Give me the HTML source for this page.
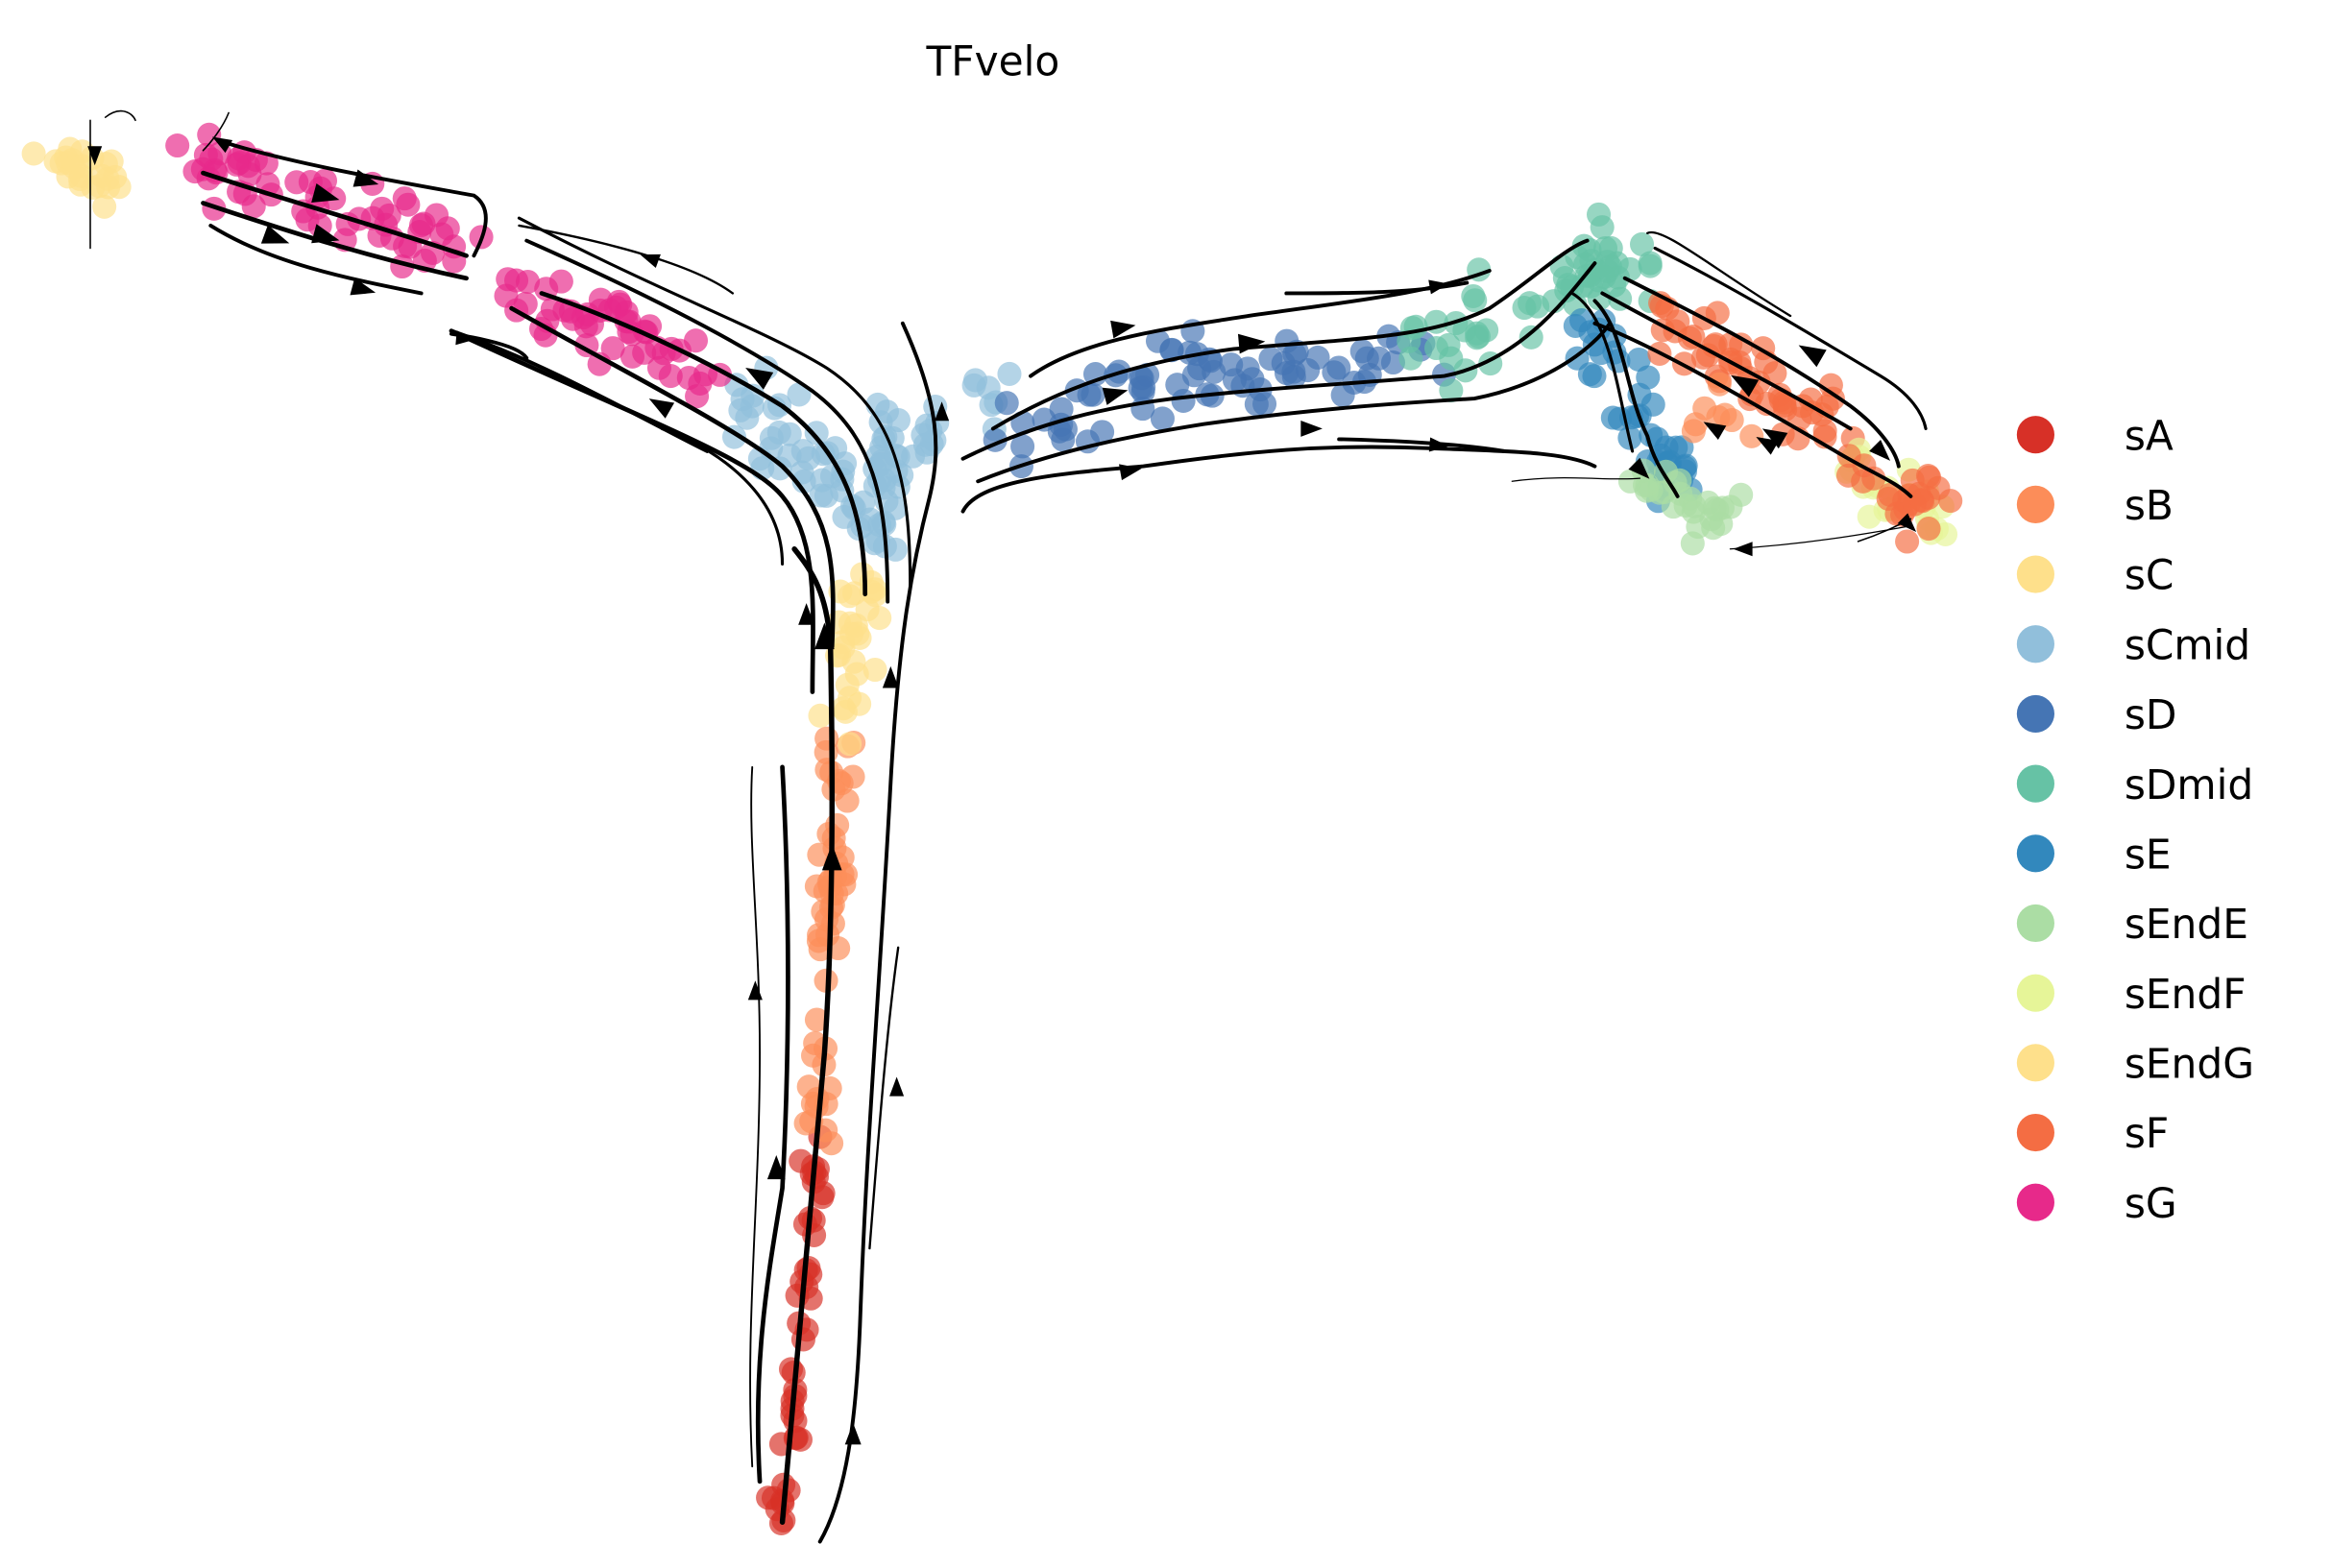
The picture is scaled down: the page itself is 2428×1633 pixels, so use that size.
<!DOCTYPE html>
<html><head><meta charset="utf-8"><style>
html,body{margin:0;padding:0;background:#fff;}
svg{display:block;}
text{font-family:"DejaVu Sans","Liberation Sans",sans-serif;}
</style></head><body>
<svg id="s" width="2428" height="1633" viewBox="0 0 1550 1042.5" preserveAspectRatio="none" xmlns="http://www.w3.org/2000/svg">
<text x="660" y="50" font-size="27" text-anchor="middle">TFvelo</text>
<g id="dots"></g>
<g id="lines" fill="none" stroke="#000" stroke-linecap="round"></g>
<g id="arrows" fill="#000"></g>
<g id="leg" font-size="27"></g>
</svg>
<script>
var seed=7;function R(){seed=(seed*16807)%2147483647;return seed/2147483647;}
function G(){return (R()+R()+R()-1.5)/0.9;}
var NS="http://www.w3.org/2000/svg";
function el(p,t,a){var e=document.createElementNS(NS,t);for(var k in a)e.setAttribute(k,a[k]);document.getElementById(p).appendChild(e);return e;}
var C={sA:"#d73027",sB:"#fc8d59",sC:"#fee08b",sCmid:"#91bfdb",sD:"#4575b4",sDmid:"#66c2a5",sE:"#3288bd",sEndE:"#abdda4",sEndF:"#e6f598",sEndG:"#fee08b",sF:"#f46d43",sG:"#e7298a"};
function cl(pts,n,sp,c){for(var i=0;i<n;i++){var t=R()*(pts.length-1),j=Math.min(Math.floor(t),pts.length-2),f=t-j;
var x=pts[j][0]+(pts[j+1][0]-pts[j][0])*f+G()*sp,y=pts[j][1]+(pts[j+1][1]-pts[j][1])*f+G()*sp;
el("dots","circle",{cx:x,cy:y,r:8,fill:C[c],"fill-opacity":0.68});}}
cl([[520,1012],[528,930],[535,840],[542,760]],45,8,"sA");
cl([[542,760],[548,650],[555,560],[560,480]],55,9,"sB");
cl([[562,480],[568,420],[575,370]],30,12,"sC");
cl([[575,370],[580,320],[600,280]],40,22,"sCmid");
cl([[560,330],[520,290],[480,250]],35,22,"sCmid");
cl([[610,300],[640,275],[660,260]],14,16,"sCmid");
cl([[470,265],[420,220],[340,185]],50,22,"sG");
cl([[320,170],[220,140],[130,105]],60,20,"sG");
cl([[35,95],[50,110],[75,120]],25,18,"sEndG");
cl([[680,290],[760,255],[850,245],[950,235]],75,22,"sD");
cl([[950,240],[1000,210],[1050,185],[1080,175]],60,24,"sDmid");
cl([[1050,200],[1080,250],[1100,300],[1115,325]],45,18,"sE");
cl([[1095,315],[1120,335],[1150,345]],28,16,"sEndE");
cl([[1100,210],[1160,250],[1220,280]],50,20,"sF");
cl([[1230,300],[1260,330],[1285,345]],25,18,"sEndF");
cl([[1230,315],[1260,330],[1280,340]],25,16,"sF");
cl([[1130,270],[1160,290]],8,14,"sB");
function L(d,w){el("lines","path",{d:d,"stroke-width":w});}
L("M520,1012 C530,900 540,800 548,700 C555,600 553,480 552,430 C550,395 540,380 528,365",3.5);
L("M505,985 C500,900 512,840 520,790 C525,700 525,600 520,510",3);
L("M500,975 C495,880 505,800 505,700 C505,620 497,560 500,510",1.2);
L("M545,1025 C565,990 570,930 572,870 C576,760 585,650 592,520 C597,430 605,380 618,330 C625,300 625,270 600,215",2.5);
L("M578,830 C585,740 590,680 597,630",1.5);
L("M540,460 C540,410 545,360 520,330 C500,305 430,280 300,220",3);
L("M553,430 C555,380 555,345 520,310 C490,285 420,250 340,205",3);
L("M575,395 C575,340 560,300 520,270 C480,245 420,215 360,195",3);
L("M590,400 C590,330 580,290 540,260 C500,232 440,200 350,160",2.5);
L("M605,390 C605,320 595,275 550,245 C510,220 440,195 345,145",2);
L("M520,375 C520,330 480,300 440,285",2);
L("M487,195 C460,175 400,160 345,150",1.5);
L("M470,300 C420,275 360,240 300,220",2.5);
L("M150,95 C200,110 260,120 315,130 C330,140 320,160 315,170",2.5);
L("M135,115 C180,130 250,150 310,170",3);
L("M135,135 C180,150 240,170 310,185",3);
L("M140,150 C180,175 230,185 280,195",2.5);
L("M300,222 C320,225 345,230 350,238",2.5);
L("M60,80 C60,100 60,130 60,165",1);
L("M70,78 C80,70 88,75 90,80",1);
L("M152,75 C148,85 140,95 135,100",1);
L("M640,340 C650,320 700,315 760,310 C830,300 880,295 950,298 C1000,300 1040,300 1060,310",2.5);
L("M650,320 C700,300 750,290 800,282 C870,272 930,268 980,265 C1030,255 1060,230 1070,215",2.5);
L("M640,305 C690,280 740,270 780,265 C840,258 900,255 960,250 C1010,240 1040,200 1060,175",2.5);
L("M660,285 C710,255 760,240 820,232 C900,225 950,225 990,205 C1020,185 1040,165 1055,160",2.5);
L("M685,250 C720,225 780,218 830,210 C900,200 950,195 990,180",2.5);
L("M855,195 C900,195 940,195 975,188",2.5);
L("M890,292 C930,293 970,295 1000,300",2.5);
L("M1005,320 C1040,315 1070,320 1090,318",0.8);
L("M1060,200 C1080,220 1080,260 1095,290 C1100,310 1110,320 1115,330",2.5);
L("M1045,195 C1070,210 1075,260 1085,300",2);
L("M1060,215 C1100,230 1160,265 1220,300 C1245,315 1260,320 1270,330",2.5);
L("M1065,195 C1110,220 1170,250 1230,285",2.5);
L("M1080,185 C1130,210 1180,235 1230,270 C1250,285 1260,300 1262,310",2.5);
L("M1100,165 C1150,190 1200,220 1250,250 C1270,262 1278,275 1280,285",2);
L("M1095,155 C1105,150 1140,180 1190,210",1.5);
L("M1150,365 C1200,362 1240,355 1268,350",0.8);
L("M1235,360 C1250,355 1260,350 1270,345",1);
function A(x,y,ang,s){s=s||10;var a=ang*Math.PI/180,c=Math.cos(a),d=Math.sin(a);
var p=[[s,0],[-s*0.6,s*0.6],[-s*0.6,-s*0.6]].map(function(q){return (x+q[0]*c-q[1]*d)+","+(y+q[0]*d+q[1]*c);}).join(" ");
el("arrows","polygon",{points:p});}
[[553,572,-90,11],[548,425,-90,11],[536,410,-90,9],[516,778,-90,10],[502,660,-90,8],[567,955,-90,9],[596,724,-90,8],[592,452,-90,9],[626,275,-90,8],
[505,250,-150,11],[440,270,-150,10],[433,172,-160,8],[242,120,15,10],[215,130,15,11],[215,157,15,11],[182,158,20,11],[240,192,15,10],[308,225,5,8],[148,95,-150,8],[63,102,90,8],
[745,218,-10,10],[830,228,-5,11],[740,262,-15,10],[750,313,-10,9],[870,285,0,9],[955,296,5,8],[955,190,-10,8],
[1205,235,-150,11],[1160,255,-150,11],[1180,290,-150,10],[1140,285,-150,9],[1175,295,-150,9],[1090,312,45,9],[1250,300,45,9],[1268,348,45,8],[1160,365,180,8]
].forEach(function(q){A(q[0],q[1],q[2],q[3]);});
var names=["sA","sB","sC","sCmid","sD","sDmid","sE","sEndE","sEndF","sEndG","sF","sG"];
names.forEach(function(n,i){var y=289+i*46.4;el("leg","circle",{cx:1353,cy:y,r:12.5,fill:C[n]});var t=el("leg","text",{x:1412,y:y+10});t.textContent=n;});
</script>
</body></html>
